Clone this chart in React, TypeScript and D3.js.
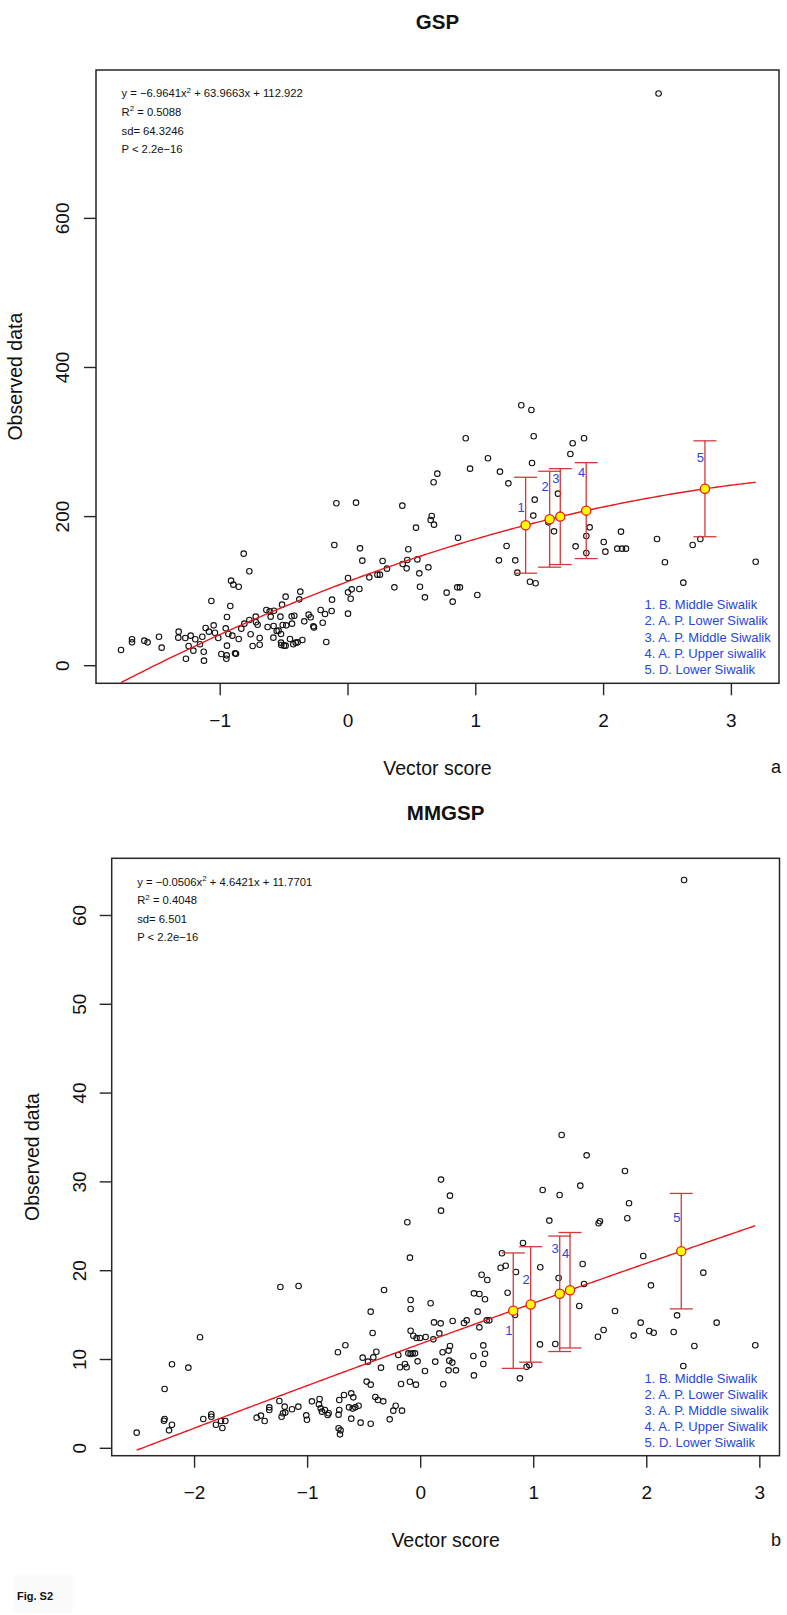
import React from "react";
import * as d3 from "d3";

const FONT = "'Liberation Sans', Arial, Helvetica, sans-serif";

// ---------------- GSP (panel a) ----------------
const gspPoints: [number, number][] = [
  [-1.776, 21.1], [-1.69, 35.4], [-1.69, 31.3], [-1.594, 33.6], [-1.568, 31.3], [-1.479, 38.9], [-1.458, 24.2],
  [-1.325, 45.7], [-1.328, 37.6], [-1.273, 37.2], [-1.268, 9.4], [-1.231, 40.3], [-1.247, 26.4], [-1.21, 20.2],
  [-1.195, 35.4], [-1.158, 28.7], [-1.14, 38.9], [-1.129, 18.8], [-1.127, 6.8], [-1.114, 50.6], [-1.088, 45.7],
  [-1.069, 86.8], [-1.051, 54.1], [-1.041, 44.3], [-1.015, 37.2], [-0.991, 15.7], [-0.952, 9.4], [-0.949, 13.9],
  [-0.957, 50.1], [-0.947, 65.3], [-0.947, 26.9], [-0.936, 42.5], [-0.921, 80.1], [-0.915, 114.1], [-0.905, 40.3],
  [-0.897, 108.7], [-0.884, 16.6], [-0.876, 16.1], [-0.855, 106.0], [-0.855, 35.8], [-0.835, 49.7], [-0.816, 150.3],
  [-0.811, 56.4], [-0.772, 126.6], [-0.772, 61.3], [-0.762, 42.1], [-0.746, 26.4], [-0.722, 65.8], [-0.72, 58.2],
  [-0.707, 55.0], [-0.691, 28.2], [-0.691, 37.2], [-0.639, 74.7], [-0.629, 51.9], [-0.613, 72.9], [-0.605, 65.8],
  [-0.584, 37.6], [-0.579, 73.8], [-0.582, 53.3], [-0.558, 46.5], [-0.543, 47.0], [-0.529, 65.8], [-0.524, 42.5],
  [-0.524, 30.9], [-0.522, 27.8], [-0.516, 81.9], [-0.511, 54.6], [-0.501, 26.9], [-0.483, 54.1], [-0.488, 92.6],
  [-0.488, 26.9], [-0.454, 35.8], [-0.441, 66.2], [-0.438, 56.4], [-0.42, 67.1], [-0.428, 28.7], [-0.409, 30.9],
  [-0.394, 31.3], [-0.381, 89.0], [-0.373, 99.3], [-0.357, 34.5], [-0.342, 59.5], [-0.308, 68.5], [-0.292, 64.9],
  [-0.271, 52.8], [-0.266, 51.4], [-0.214, 74.7], [-0.198, 57.7], [-0.18, 69.3], [-0.17, 31.8], [-0.128, 73.4],
  [-0.125, 88.6], [-0.107, 161.9], [-0.091, 217.8], [0.0, 98.4], [0.0, 69.8], [0.0, 117.6], [0.021, 89.9],
  [0.029, 102.4], [0.063, 218.7], [0.089, 102.9], [0.094, 157.4], [0.112, 140.9], [0.167, 118.5], [0.23, 122.1],
  [0.25, 122.1], [0.271, 140.4], [0.305, 130.2], [0.363, 105.1],
  [0.428, 136.4], [0.459, 130.6], [0.464, 141.8], [0.543, 142.6], [0.629, 131.9], [0.472, 156.1], [0.532, 185.2],
  [0.425, 214.7], [0.655, 200.8], [0.647, 195.4], [0.673, 189.2], [0.67, 246.0], [0.699, 257.6], [0.861, 171.7],
  [0.921, 305.0], [0.955, 264.3], [1.095, 278.2], [1.189, 260.3], [1.255, 244.6], [1.241, 160.6], [1.181, 141.3],
  [1.309, 141.3], [1.356, 349.3], [1.435, 343.0], [1.453, 307.7], [1.44, 271.9], [1.461, 222.7], [1.45, 201.3],
  [1.568, 192.3], [1.612, 180.2], [1.643, 230.8], [1.758, 298.3], [1.74, 284.0], [1.847, 305.0], [1.781, 160.1],
  [1.865, 174.0], [1.891, 185.6], [1.865, 151.2], [2.001, 165.9], [2.014, 153.0], [2.136, 179.8], [2.107, 157.0],
  [2.144, 157.0], [2.175, 157.0], [2.418, 170.0], [2.48, 138.7], [2.697, 161.9], [2.757, 170.0], [3.19, 139.5],
  [0.558, 123.9], [0.563, 106.0], [0.602, 91.7], [0.772, 98.0], [0.819, 85.9], [0.855, 105.1], [0.876, 105.1],
  [1.012, 94.8], [1.325, 124.8], [1.424, 112.7], [1.468, 110.5], [2.624, 111.4],
  [2.43, 767.5],
];
const gspCoef = [-6.9641, 63.9663, 112.922];
const gspSd = 64.3246;
const gspSiteX = [1.39, 1.578, 1.661, 1.864, 2.793];
const gspSiteY = [188.4, 196.5, 200.0, 208.0, 237.3];
const gspLabelY = [213, 240, 252, 260, 280];
const gspLegend = [
  "1. B. Middle Siwalik",
  "2. A. P. Lower Siwalik",
  "3. A. P. Middle Siwalik",
  "4. A. P. Upper siwalik",
  "5. D. Lower Siwalik",
];
const gspXTicks = [-1, 0, 1, 2, 3];
const gspYTicks = [0, 200, 400, 600];
const gspEq = ["−6.9641", "63.9663", "112.922"];
const gspStats = ["0.5088", "64.3246", "2.2e−16"];

// ---------------- MMGSP (panel b) ----------------
const mmPoints: [number, number][] = [
  [-2.512, 1.76], [-2.265, 6.68], [-2.265, 3.3], [-2.271, 3.11], [-2.226, 2.02], [-2.2, 9.46], [-2.2, 2.66],
  [-2.055, 9.08], [-1.952, 12.5], [-1.923, 3.3], [-1.852, 3.83], [-1.852, 3.56], [-1.811, 2.66], [-1.766, 3.07],
  [-1.754, 2.29], [-1.728, 3.07], [-1.451, 3.45], [-1.413, 3.68], [-1.38, 3.07], [-1.339, 4.61], [-1.339, 4.31],
  [-1.25, 5.33], [-1.241, 18.16], [-1.23, 3.56], [-1.218, 3.94], [-1.203, 4.69], [-1.197, 4.02], [-1.138, 4.39],
  [-1.082, 4.69], [-1.08, 18.28], [-1.012, 3.71], [-1.006, 3.22], [-0.962, 5.29], [-0.894, 5.55], [-0.9, 4.95],
  [-0.885, 4.5], [-0.873, 4.13], [-0.847, 4.32], [-0.823, 3.75], [-0.814, 3.94], [-0.732, 10.81], [-0.726, 3.79],
  [-0.72, 4.32], [-0.72, 5.44], [-0.726, 2.25], [-0.708, 2.02], [-0.714, 1.57], [-0.678, 6.01], [-0.666, 11.6],
  [-0.614, 6.19], [-0.614, 3.34], [-0.602, 4.47], [-0.596, 5.74], [-0.634, 4.61], [-0.578, 4.61], [-0.549, 4.8],
  [-0.531, 2.89], [-0.513, 10.21], [-0.478, 7.51], [-0.466, 9.76], [-0.442, 7.17], [-0.442, 15.39], [-0.442, 2.77],
  [-0.425, 12.99], [-0.419, 10.24], [-0.401, 5.78], [-0.392, 10.88], [-0.378, 5.44], [-0.351, 9.08], [-0.331, 5.29],
  [-0.324, 17.83], [-0.274, 3.26], [-0.242, 4.24], [-0.221, 4.8],
  [-0.095, 21.47], [-0.089, 16.7], [-0.089, 15.69], [-0.165, 4.24], [-0.174, 7.24], [-0.095, 7.5], [-0.042, 7.17],
  [-0.183, 9.12], [-0.139, 9.5], [-0.124, 9.12], [-0.198, 10.51], [-0.109, 10.69], [-0.089, 10.62], [-0.071, 10.69],
  [-0.05, 10.69], [-0.027, 9.79], [0.038, 8.7], [-0.089, 13.24], [-0.065, 12.68], [-0.036, 12.42], [-0.006, 12.42],
  [0.044, 12.53], [0.112, 12.27], [0.118, 14.18], [0.177, 14.07], [0.165, 12.94], [0.088, 16.33], [0.194, 10.81],
  [0.259, 11.52], [0.247, 11.0], [0.253, 9.87], [0.28, 9.65], [0.129, 9.76], [0.247, 8.78], [0.312, 8.78],
  [0.2, 7.21], [0.283, 14.34], [0.383, 14.11], [0.407, 14.41], [0.466, 10.39], [0.471, 8.21], [0.554, 11.59],
  [0.569, 10.65], [0.554, 9.49], [0.504, 15.39], [0.519, 13.62], [0.471, 17.45], [0.519, 17.38], [0.569, 16.78],
  [0.539, 19.55], [0.589, 18.95], [0.584, 14.41], [0.607, 14.41], [0.719, 21.96], [0.707, 20.34], [0.752, 20.56],
  [0.843, 19.85], [0.769, 17.52], [0.834, 15.01], [0.905, 23.12], [1.058, 20.38], [0.878, 7.88], [0.937, 9.19],
  [0.961, 9.38], [1.055, 11.7], [1.191, 11.74], [1.22, 19.18], [1.403, 16.02], [1.433, 20.75], [1.445, 18.5],
  [1.568, 12.57], [1.618, 13.32], [1.719, 15.46], [1.884, 12.69], [1.946, 14.15], [1.969, 21.66], [2.037, 18.35],
  [2.022, 13.21], [2.061, 13.02], [2.238, 13.1], [2.268, 14.97], [2.323, 9.27], [2.421, 11.52], [2.5, 19.78],
  [2.618, 14.15], [2.96, 11.6],
  [1.247, 35.28], [1.468, 32.99], [1.807, 31.23], [0.18, 30.26], [0.259, 28.45], [0.18, 26.76], [1.079, 29.09],
  [1.229, 28.53], [1.412, 29.58], [1.843, 27.59], [1.828, 25.9], [-0.118, 25.45], [1.138, 25.64], [1.574, 25.34],
  [1.586, 25.56],
  [2.33, 64.0],
];
const mmCoef = [-0.0506, 4.6421, 11.7701];
const mmSd = 6.501;
const mmSiteX = [0.819, 0.973, 1.23, 1.321, 2.305];
const mmSiteY = [15.5, 16.2, 17.4, 17.8, 22.2];
const mmLabelY = [13.3, 19.0, 22.5, 22.0, 26.0];
const mmLegend = [
  "1. B. Middle Siwalik",
  "2. A. P. Lower Siwalik",
  "3. A. P. Middle siwalik",
  "4. A. P. Upper Siwalik",
  "5. D. Lower Siwalik",
];
const mmXTicks = [-2, -1, 0, 1, 2, 3];
const mmYTicks = [0, 10, 20, 30, 40, 50, 60];
const mmEq = ["−0.0506", "4.6421", "11.7701"];
const mmStats = ["0.4048", "6.501", "2.2e−16"];

type PanelProps = {
  id: string;
  title: string;
  tag: string;
  points: [number, number][];
  coef: number[];
  sd: number;
  siteX: number[];
  siteY: number[];
  labelY: number[];
  legend: string[];
  xTicks: number[];
  yTicks: number[];
  eq: string[];
  stats: string[];
  xDomain: [number, number];
  yDomain: [number, number];
  left: number;
  right: number;
  top: number;
  bottom: number;
  titleY: number;
  yTickX: number;
  yTitleX: number;
  legendY: number;
};

function Panel(p: PanelProps) {
  const x = d3.scaleLinear().domain(p.xDomain).range([p.left, p.right]);
  const y = d3.scaleLinear().domain(p.yDomain).range([p.bottom, p.top]);
  const [xmin, xmax] = d3.extent(p.points, (d) => d[0]) as [number, number];
  const f = (v: number) => p.coef[0] * v * v + p.coef[1] * v + p.coef[2];
  const samples = d3.range(0, 201).map((i) => xmin + ((xmax - xmin) * i) / 200);
  const line = d3
    .line<number>()
    .x((v) => x(v))
    .y((v) => y(f(v)));
  const cx = (p.left + p.right) / 2;
  const cy = (p.top + p.bottom) / 2;
  const axisColor = "#262626";
  const blue = "#2846d8";
  const barColor = "#d23a3a";
  const eqX = p.left + 25.5;
  const eqY0 = p.top + 27.3;
  const eqStep = 18.6;
  const eqFont = 11.25;
  const cap = 11.5;
  return (
    <g>
      <defs>
        <clipPath id={`clip-${p.id}`}>
          <rect x={p.left} y={p.top} width={p.right - p.left} height={p.bottom - p.top} />
        </clipPath>
      </defs>
      <text x={cx} y={p.titleY} textAnchor="middle" fontFamily={FONT} fontWeight="bold" fontSize={20.5} fill="#111">
        {p.title}
      </text>
      {/* equation and statistics */}
      <g fontFamily={FONT} fontSize={eqFont} fill="#111">
        <text x={eqX} y={eqY0}>
          {`y = ${p.eq[0]}x`}
          <tspan dy={-4.6} fontSize={8}>2</tspan>
          <tspan dy={4.6}>{` + ${p.eq[1]}x + ${p.eq[2]}`}</tspan>
        </text>
        <text x={eqX} y={eqY0 + eqStep}>
          R<tspan dy={-4.6} fontSize={8}>2</tspan>
          <tspan dy={4.6}>{` = ${p.stats[0]}`}</tspan>
        </text>
        <text x={eqX} y={eqY0 + eqStep * 2}>{`sd= ${p.stats[1]}`}</text>
        <text x={eqX} y={eqY0 + eqStep * 3}>{`P < ${p.stats[2]}`}</text>
      </g>
      {/* scatter */}
      <g fill="none" stroke="#111" strokeWidth={1.1}>
        {p.points.map((d, i) => (
          <circle key={i} cx={x(d[0])} cy={y(d[1])} r={2.75} />
        ))}
      </g>
      {/* fitted curve */}
      <path d={line(samples) || ""} fill="none" stroke="#e8191c" strokeWidth={1.4} clipPath={`url(#clip-${p.id})`} />
      {/* error bars */}
      <g stroke={barColor} strokeWidth={1.3}>
        {p.siteX.map((sx, i) => {
          const px = x(sx);
          const y1 = y(p.siteY[i] + p.sd);
          const y2 = y(p.siteY[i] - p.sd);
          return (
            <g key={i}>
              <line x1={px} x2={px} y1={y1} y2={y2} />
              <line x1={px - cap} x2={px + cap} y1={y1} y2={y1} />
              <line x1={px - cap} x2={px + cap} y1={y2} y2={y2} />
            </g>
          );
        })}
      </g>
      {p.siteX.map((sx, i) => (
        <circle key={i} cx={x(sx)} cy={y(p.siteY[i])} r={4.6} fill="#ffff00" stroke="#e8191c" strokeWidth={1.3} />
      ))}
      <g fontFamily={FONT} fontSize={13} fill={blue} textAnchor="middle">
        {p.siteX.map((sx, i) => (
          <text key={i} x={x(sx) - 4.5} y={y(p.labelY[i]) + 4.7}>
            {String(i + 1)}
          </text>
        ))}
      </g>
      {/* legend */}
      <g fontFamily={FONT} fontSize={13} fill={blue}>
        {p.legend.map((s, i) => (
          <text key={i} x={644.5} y={p.legendY + i * 16.1}>
            {s}
          </text>
        ))}
      </g>
      {/* box and axes */}
      <rect
        x={p.left}
        y={p.top}
        width={p.right - p.left}
        height={p.bottom - p.top}
        fill="none"
        stroke={axisColor}
        strokeWidth={1.5}
      />
      <g stroke={axisColor} strokeWidth={1.4}>
        {p.xTicks.map((t) => (
          <line key={t} x1={x(t)} x2={x(t)} y1={p.bottom} y2={p.bottom + 12} />
        ))}
        {p.yTicks.map((t) => (
          <line key={t} x1={p.left} x2={p.left - 12} y1={y(t)} y2={y(t)} />
        ))}
      </g>
      <g fontFamily={FONT} fontSize={19} fill="#111" textAnchor="middle">
        {p.xTicks.map((t) => (
          <text key={t} x={x(t)} y={p.bottom + 43.4}>
            {t < 0 ? `−${Math.abs(t)}` : String(t)}
          </text>
        ))}
        {p.yTicks.map((t) => (
          <text key={t} transform={`translate(${p.yTickX},${y(t)}) rotate(-90)`}>
            {String(t)}
          </text>
        ))}
        <text x={cx} y={p.bottom + 91.5} fontSize={19.5}>
          Vector score
        </text>
        <text transform={`translate(${p.yTitleX},${cy}) rotate(-90)`} fontSize={19.5}>
          Observed data
        </text>
      </g>
      <text x={771} y={p.bottom + 90} fontFamily={FONT} fontSize={18} fill="#111">
        {p.tag}
      </text>
    </g>
  );
}

export default function App() {
  return (
    <svg
      width={787}
      height={1615}
      viewBox="0 0 787 1615"
      style={{ position: "absolute", left: 0, top: 0, background: "#ffffff" }}
    >
      <rect x={0} y={0} width={787} height={1615} fill="#ffffff" />
      <Panel
        id="gsp"
        title="GSP"
        tag="a"
        points={gspPoints}
        coef={gspCoef}
        sd={gspSd}
        siteX={gspSiteX}
        siteY={gspSiteY}
        labelY={gspLabelY}
        legend={gspLegend}
        xTicks={gspXTicks}
        yTicks={gspYTicks}
        eq={gspEq}
        stats={gspStats}
        xDomain={[-1.9718, 3.3725]}
        yDomain={[-23.6, 799.0]}
        left={96}
        right={779}
        top={70}
        bottom={683.3}
        titleY={29.3}
        yTickX={68.5}
        yTitleX={21.7}
        legendY={609.3}
      />
      <Panel
        id="mm"
        title="MMGSP"
        tag="b"
        points={mmPoints}
        coef={mmCoef}
        sd={mmSd}
        siteX={mmSiteX}
        siteY={mmSiteY}
        labelY={mmLabelY}
        legend={mmLegend}
        xTicks={mmXTicks}
        yTicks={mmYTicks}
        eq={mmEq}
        stats={mmStats}
        xDomain={[-2.733, 3.174]}
        yDomain={[-0.833, 66.44]}
        left={111.7}
        right={779.5}
        top={858.3}
        bottom={1455.7}
        titleY={820}
        yTickX={86}
        yTitleX={39.3}
        legendY={1382.7}
      />
      <rect x={13} y={1575} width={60} height={38} fill="#fbfbfb" />
      <text x={17} y={1599.5} fontFamily={FONT} fontWeight="bold" fontSize={11} fill="#111">
        Fig. S2
      </text>
    </svg>
  );
}
